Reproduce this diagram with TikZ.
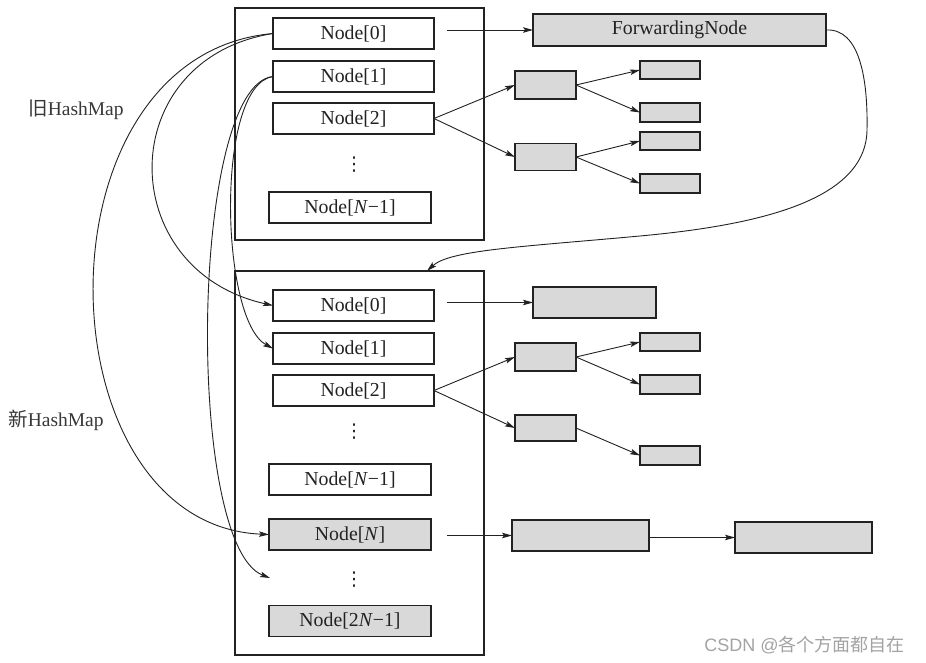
\documentclass[tikz,border=0pt]{standalone}
\usepackage{fontspec}
\setmainfont{Liberation Serif}
\newfontfamily\cjk{Noto Sans CJK SC}
\newfontfamily\dv{DejaVu Sans}
\newfontfamily\lsans{Liberation Sans}
\usetikzlibrary{arrows.meta,calc}
\definecolor{boxgray}{HTML}{D9D9D9}
\definecolor{ink}{HTML}{222222}
\definecolor{wm}{HTML}{A3A3A3}
\begin{document}
\begin{tikzpicture}[x=1pt,y=-1pt,
  base/.style={draw=ink,line width=1.5pt,inner sep=0pt,outer sep=0pt,anchor=center,
    font=\fontsize{19.8}{22}\selectfont,text=ink},
  slot/.style={base,fill=white,minimum width=161pt,minimum height=31pt},
  gslot/.style={slot,fill=boxgray},
  gbox/.style={base,fill=boxgray},
  frame/.style={draw=ink,line width=1.6pt,inner sep=0pt,outer sep=0pt,anchor=center},
  arr/.style={draw=ink,line width=0.9pt,-{Stealth[length=10pt,width=5.5pt,inset=2pt]}},
  vd/.style={inner sep=0pt,font=\dv\fontsize{19}{22}\selectfont,text=ink},
  lbl/.style={inner sep=0pt,font=\fontsize{19.5}{22}\selectfont,text=ink!90}
]
\useasboundingbox (0,0) rectangle (926,663);
\fill[white] (0,0) rectangle (926,663);

% frames
\node[frame,minimum width=249pt,minimum height=232pt] (oldmap) at (359.5,124) {};
\node[frame,minimum width=249pt,minimum height=384pt] (newmap) at (359.5,463) {};

% old map
\node[slot] (o0) at (353.5,33.5) {Node[0]};
\node[slot] (o1) at (353.5,76.5) {Node[1]};
\node[slot] (o2) at (353.5,118.5) {Node[2]};
\node[vd] (od) at (354,165) {⋮};
\node[slot,minimum width=162pt] (oN1) at (350,207.5) {Node[\textit{N}−1]};

\node[gbox,minimum width=293pt,minimum height=32pt] (fwd) at (679.5,30) {ForwardingNode};
\node[gbox,minimum width=61pt,minimum height=28pt] (oA) at (545.5,85) {};
\node[gbox,minimum width=61pt,minimum height=27pt] (oB) at (545.5,157) {};
\node[gbox,minimum width=60pt,minimum height=18pt] (ol1) at (670,70) {};
\node[gbox,minimum width=60pt,minimum height=19pt] (ol2) at (670,112.5) {};
\node[gbox,minimum width=60pt,minimum height=18pt] (ol3) at (670,141) {};
\node[gbox,minimum width=60pt,minimum height=19pt] (ol4) at (670,183.5) {};

% new map
\node[slot] (n0) at (353.5,305.5) {Node[0]};
\node[slot] (n1) at (353.5,348.5) {Node[1]};
\node[slot] (n2) at (353.5,390.5) {Node[2]};
\node[vd] (nd) at (354,432) {⋮};
\node[slot,minimum width=162pt] (nN1) at (350,479.5) {Node[\textit{N}−1]};
\node[gslot,minimum width=162pt] (nN) at (350,534.5) {Node[\textit{N}]};
\node[vd] (nd2) at (354,580) {⋮};
\node[gslot,minimum width=162pt] (n2N1) at (350,621) {Node[2\textit{N}−1]};

\node[gbox,minimum width=123pt,minimum height=31pt] (nF) at (594.5,302.5) {};
\node[gbox,minimum width=61pt,minimum height=28pt] (nA) at (545.5,357) {};
\node[gbox,minimum width=61pt,minimum height=26pt] (nB) at (545.5,428) {};
\node[gbox,minimum width=60pt,minimum height=18pt] (nl1) at (670,342) {};
\node[gbox,minimum width=60pt,minimum height=19pt] (nl2) at (670,384.5) {};
\node[gbox,minimum width=60pt,minimum height=19pt] (nl3) at (670,455.5) {};
\node[gbox,minimum width=137pt,minimum height=31pt] (nC1) at (580.5,535.5) {};
\node[gbox,minimum width=137pt,minimum height=31pt] (nC2) at (803.5,537.5) {};

% labels
\node[lbl] (oldlbl) at (76,110) {{\cjk 旧}HashMap};
\node[lbl] (newlbl) at (56,420) {{\cjk 新}HashMap};
\node[inner sep=0pt,font=\fontsize{18}{20}\selectfont,text=wm] (wmk) at (804.5,645) {{\lsans CSDN @}{\cjk 各个方面都自在}};

% start points of the free arrows
\coordinate (s0) at ($(o0.east)+(13,0)$);
\coordinate (s1) at ($(n0.east)+(13,0)$);
\coordinate (s2) at ($(nN.east)+(16,0)$);

% connectors old
\draw[arr] (s0 |- fwd.west) -- (fwd.west);
\draw[arr] (o2.east) -- (oA.west);
\draw[arr] (o2.east) -- (oB.west);
\draw[arr] (oA.east) -- (ol1.west);
\draw[arr] (oA.east) -- (ol2.west);
\draw[arr] (oB.east) -- (ol3.west);
\draw[arr] (oB.east) -- (ol4.west);

% connectors new
\draw[arr] (s1 |- nF.west) -- (nF.west);
\draw[arr] (n2.east) -- (nA.west);
\draw[arr] (n2.east) -- (nB.west);
\draw[arr] (nA.east) -- (nl1.west);
\draw[arr] (nA.east) -- (nl2.west);
\draw[arr] (nB.east) -- (nl3.west);
\draw[arr] (s2 |- nC1.west) -- (nC1.west);
\draw[arr] (nC1.east |- nC2.west) -- (nC2.west);

% forwarding curve
\coordinate (fwdend) at ($(newmap.north west)!0.771!(newmap.north east)$);
\draw[arr] (fwd.east) .. controls (860,28) and (868,80) .. (867,130)
  .. controls (866,200) and (760,225) .. (640,236)
  .. controls (520,247) and (450,250) .. (fwdend);

% migration curves
\coordinate (dotsin) at (270,578);
\draw[arr] (o0.west) .. controls (113,59) and (113,270) .. (n0.west);
\draw[arr] (o0.west) .. controls (30,55) and (40,525) .. (nN.west);
\draw[arr] (o1.west) .. controls (215,85) and (220,320) .. (n1.west);
\draw[arr] (o1.west) .. controls (190,85) and (185,545) .. (dotsin);
\end{tikzpicture}
\end{document}
